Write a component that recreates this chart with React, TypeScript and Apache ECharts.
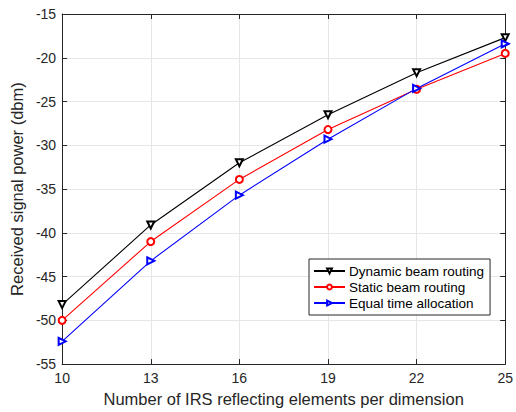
import React, { useEffect, useRef } from "react";
import * as echarts from "echarts";

const categories = ["10", "13", "16", "19", "22", "25"];
const dynamicRouting = [-48.2, -39.1, -32.0, -26.5, -21.7, -17.7];
const staticRouting = [-50.0, -41.0, -33.9, -28.2, -23.6, -19.5];
const equalTime = [-52.4, -43.2, -35.7, -29.3, -23.5, -18.4];
const seriesNames = ["Dynamic beam routing", "Static beam routing", "Equal time allocation"];
const seriesColors = ["#000000", "#ff0000", "#0000ff"];

const FONT = "Liberation Sans";
const AXIS_COLOR = "#262626";

export default function App() {
  const ref = useRef<HTMLDivElement>(null);
  useEffect(() => {
    const chart = echarts.init(ref.current!, undefined, { renderer: "svg" });
    const axisLine = { show: true, lineStyle: { color: AXIS_COLOR, width: 1 } };
    const axisTick = { show: true, inside: true, length: 5, lineStyle: { color: AXIS_COLOR } };
    const splitLine = { show: true, lineStyle: { color: "#e6e6e6", width: 1 } };
    const mkSeries = (name: string, data: number[], color: string, symbol: string, rotate: number, size: number) => ({
      name,
      type: "line",
      data,
      symbol,
      symbolSize: size,
      symbolRotate: rotate,
      showAllSymbol: true,
      lineStyle: { color, width: 1.1 },
      itemStyle: { color, borderColor: color, borderWidth: 1 },
      emphasis: { disabled: true },
    });
    chart.setOption({
      animation: false,
      textStyle: { fontFamily: FONT },
      grid: { left: 62, top: 14, right: 8, bottom: 46, containLabel: false },
      legend: {
        show: true,
        orient: "vertical",
        left: 309,
        top: 259,
        backgroundColor: "#fff",
        borderColor: AXIS_COLOR,
        borderWidth: 1,
        padding: [4, 6, 4, 4],
        itemGap: 0,
        itemWidth: 31,
        itemHeight: 6,
        textStyle: { fontFamily: FONT, fontSize: 13.5, lineHeight: 16, color: "#000", padding: [0, 0, 0, -1] },
        data: seriesNames,
      },
      xAxis: [
        {
          type: "category",
          data: categories,
          boundaryGap: false,
          name: "Number of IRS reflecting elements per dimension",
          nameLocation: "middle",
          nameGap: 25,
          nameTextStyle: { fontFamily: FONT, fontSize: 16.5, color: AXIS_COLOR },
          axisLine,
          axisTick: { ...axisTick, alignWithLabel: true },
          axisLabel: { fontFamily: FONT, fontSize: 14, color: AXIS_COLOR, margin: 7 },
          splitLine,
        },
        {
          type: "category",
          data: categories,
          boundaryGap: false,
          position: "top",
          axisLine,
          axisTick,
          axisLabel: { show: false },
          splitLine: { show: false },
        },
      ],
      yAxis: [
        {
          type: "value",
          min: -55,
          max: -15,
          interval: 5,
          name: "Received signal power (dbm)",
          nameLocation: "middle",
          nameGap: 31,
          nameTextStyle: { fontFamily: FONT, fontSize: 16.5, color: AXIS_COLOR },
          axisLine,
          axisTick,
          axisLabel: { fontFamily: FONT, fontSize: 14, color: AXIS_COLOR, margin: 6 },
          splitLine,
        },
        {
          type: "value",
          min: -55,
          max: -15,
          interval: 5,
          position: "right",
          axisLine,
          axisTick,
          axisLabel: { show: false },
          splitLine: { show: false },
        },
      ],
      series: [
        mkSeries(seriesNames[0], dynamicRouting, seriesColors[0], "emptyTriangle", 180, 7),
        mkSeries(seriesNames[1], staticRouting, seriesColors[1], "emptyCircle", 0, 7),
        mkSeries(seriesNames[2], equalTime, seriesColors[2], "emptyTriangle", -90, 7),
      ],
    });
    return () => chart.dispose();
  }, []);
  return <div ref={ref} style={{ width: 516, height: 412, position: "absolute", left: 0, top: 0, background: "#fff" }} />;
}
